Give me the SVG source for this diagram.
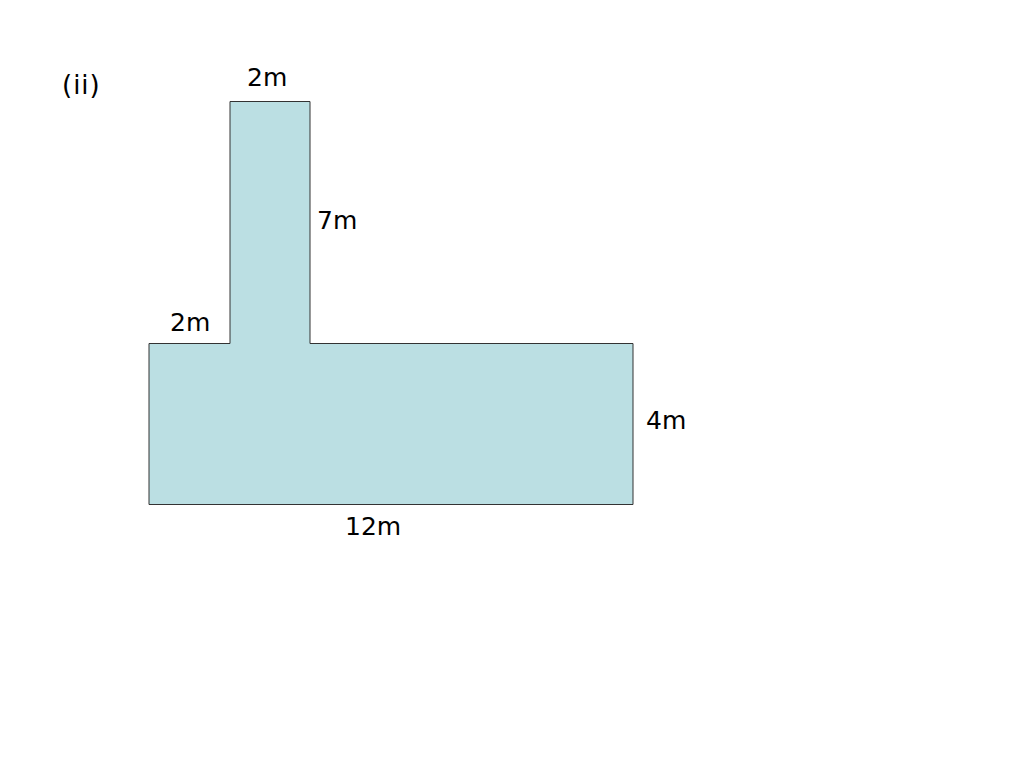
<svg xmlns="http://www.w3.org/2000/svg" width="1024" height="768" viewBox="0 0 1024 768">
<style>
.lbl{font-family:"DejaVu Sans",Verdana,sans-serif;font-size:25px;fill:#000}
.shape{fill:#BBDFE3;stroke:#333;stroke-width:1}
</style>
<rect width="1024" height="768" fill="#fff"/>
<g id="shape">
<polygon class="shape" points="230,101.5 310,101.5 310,343.5 633,343.5 633,504.5 149,504.5 149,343.5 230,343.5"/>
</g>
<g id="labels">
<text class="lbl" x="62" y="94" style="font-size:26px;letter-spacing:1px">(ii)</text>
<text class="lbl" x="247" y="86">2m</text>
<text class="lbl" x="317" y="229">7m</text>
<text class="lbl" x="170" y="331">2m</text>
<text class="lbl" x="646" y="429">4m</text>
<text class="lbl" x="345" y="535">12m</text>
</g>
</svg>
